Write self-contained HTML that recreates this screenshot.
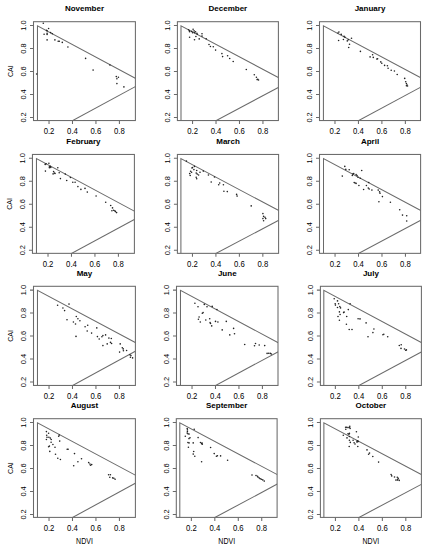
<!DOCTYPE html>
<html><head><meta charset="utf-8"><style>
html,body{margin:0;padding:0;background:#fff;width:427px;height:550px;overflow:hidden}
svg{display:block;filter:none}
text{font-family:"Liberation Sans",sans-serif;font-size:8.0px;fill:#000;stroke:#000;stroke-width:0px}
circle{fill:#222}
text.t{font-weight:bold;font-size:8.0px}
text.xl{font-size:8.8px} text.yl{font-size:8.0px} text.cai{font-size:8.0px} text.ndvi{font-size:8.8px}
</style></head><body>
<svg width="427" height="550" viewBox="0 0 427 550">
<rect width="427" height="550" fill="#fff"/>
<clipPath id="c0"><rect x="33.5" y="21.7" width="101.9" height="98.85"/></clipPath>
<g clip-path="url(#c0)" stroke="#6a6a6a" stroke-width="1.05" fill="none">
<path d="M37.47 122.55V25.8L137.4 79.47"/>
<path d="M69 122.55L137.4 85.52"/>
</g>
<rect x="33.5" y="21.7" width="101.9" height="98.85" fill="none" stroke="#6a6a6a" stroke-width="1.05"/>
<path d="M49.03 120.55v3.5M72.49 120.55v3.5M95.95 120.55v3.5M119.41 120.55v3.5M33.5 117.42h-3.5M33.5 94.44h-3.5M33.5 71.46h-3.5M33.5 48.48h-3.5M33.5 25.5h-3.5" stroke="#6a6a6a" stroke-width="1.05"/>
<circle cx="43.3" cy="23.3" r="0.8"/>
<circle cx="48.6" cy="28.5" r="0.8"/>
<circle cx="46.5" cy="30.3" r="0.8"/>
<circle cx="47.1" cy="30.9" r="0.8"/>
<circle cx="44.1" cy="34.2" r="0.8"/>
<circle cx="47.1" cy="33.2" r="0.8"/>
<circle cx="47.1" cy="34.4" r="0.8"/>
<circle cx="50.6" cy="32.6" r="0.8"/>
<circle cx="52.3" cy="33.8" r="0.8"/>
<circle cx="47.1" cy="39.9" r="0.8"/>
<circle cx="54.9" cy="39.9" r="0.8"/>
<circle cx="58.2" cy="41.2" r="0.8"/>
<circle cx="59.3" cy="41.2" r="0.8"/>
<circle cx="62.3" cy="42.4" r="0.8"/>
<circle cx="67.9" cy="47" r="0.8"/>
<circle cx="85.6" cy="58.4" r="0.8"/>
<circle cx="93.1" cy="70.1" r="0.8"/>
<circle cx="109.9" cy="65" r="0.8"/>
<circle cx="116.3" cy="76.6" r="0.8"/>
<circle cx="118.4" cy="77.3" r="0.8"/>
<circle cx="116.9" cy="78.7" r="0.8"/>
<circle cx="116.9" cy="83.6" r="0.8"/>
<circle cx="123.9" cy="86.9" r="0.8"/>
<circle cx="36.6" cy="74" r="0.8"/>
<text class="xl" transform="translate(49.03 133.75) scale(0.88 1)" text-anchor="middle">0.2</text>
<text class="xl" transform="translate(72.49 133.75) scale(0.88 1)" text-anchor="middle">0.4</text>
<text class="xl" transform="translate(95.95 133.75) scale(0.88 1)" text-anchor="middle">0.6</text>
<text class="xl" transform="translate(119.41 133.75) scale(0.88 1)" text-anchor="middle">0.8</text>
<text class="yl" transform="translate(26.1 117.42) rotate(-90) scale(0.93 1)" text-anchor="middle">0.2</text>
<text class="yl" transform="translate(26.1 94.44) rotate(-90) scale(0.93 1)" text-anchor="middle">0.4</text>
<text class="yl" transform="translate(26.1 71.46) rotate(-90) scale(0.93 1)" text-anchor="middle">0.6</text>
<text class="yl" transform="translate(26.1 48.48) rotate(-90) scale(0.93 1)" text-anchor="middle">0.8</text>
<text class="yl" transform="translate(26.1 25.5) rotate(-90) scale(0.93 1)" text-anchor="middle">1.0</text>
<text class="t" x="84.45" y="11.3" text-anchor="middle">November</text>
<text transform="translate(13.1 71.12) rotate(-90) scale(0.88 1)" text-anchor="middle" class="cai">CAI</text>
<clipPath id="c1"><rect x="177.4" y="21.7" width="101" height="98.85"/></clipPath>
<g clip-path="url(#c1)" stroke="#6a6a6a" stroke-width="1.05" fill="none">
<path d="M181 122.55V25.8L280.4 78.66"/>
<path d="M212.47 122.55L280.4 86.33"/>
</g>
<rect x="177.4" y="21.7" width="101" height="98.85" fill="none" stroke="#6a6a6a" stroke-width="1.05"/>
<path d="M192.56 120.55v3.5M216.02 120.55v3.5M239.48 120.55v3.5M262.94 120.55v3.5M177.4 117.42h-3.5M177.4 94.44h-3.5M177.4 71.46h-3.5M177.4 48.48h-3.5M177.4 25.5h-3.5" stroke="#6a6a6a" stroke-width="1.05"/>
<circle cx="188.6" cy="29.7" r="0.8"/>
<circle cx="189.4" cy="30.9" r="0.8"/>
<circle cx="189.6" cy="31.8" r="0.8"/>
<circle cx="191.7" cy="31.4" r="0.8"/>
<circle cx="193.1" cy="29.3" r="0.8"/>
<circle cx="192.6" cy="32.8" r="0.8"/>
<circle cx="194.1" cy="30.9" r="0.8"/>
<circle cx="194.5" cy="32.8" r="0.8"/>
<circle cx="195.5" cy="31.8" r="0.8"/>
<circle cx="196.9" cy="33.2" r="0.8"/>
<circle cx="197.3" cy="34.2" r="0.8"/>
<circle cx="202" cy="33.7" r="0.8"/>
<circle cx="202" cy="36.1" r="0.8"/>
<circle cx="206.2" cy="38.7" r="0.8"/>
<circle cx="189.6" cy="37.3" r="0.8"/>
<circle cx="195.9" cy="36.5" r="0.8"/>
<circle cx="194.5" cy="39.8" r="0.8"/>
<circle cx="199.2" cy="38.9" r="0.8"/>
<circle cx="209" cy="44.5" r="0.8"/>
<circle cx="210.4" cy="46.5" r="0.8"/>
<circle cx="213.3" cy="46.8" r="0.8"/>
<circle cx="215.6" cy="50.1" r="0.8"/>
<circle cx="221.9" cy="53.6" r="0.8"/>
<circle cx="222.6" cy="56.6" r="0.8"/>
<circle cx="227.6" cy="55.7" r="0.8"/>
<circle cx="229.7" cy="58.5" r="0.8"/>
<circle cx="233.2" cy="61.5" r="0.8"/>
<circle cx="246.3" cy="69.5" r="0.8"/>
<circle cx="254.3" cy="74.8" r="0.8"/>
<circle cx="256.4" cy="77.2" r="0.8"/>
<circle cx="257.8" cy="79.3" r="0.8"/>
<circle cx="258.5" cy="80" r="0.8"/>
<circle cx="257.1" cy="79.6" r="0.8"/>
<text class="xl" transform="translate(192.56 133.75) scale(0.88 1)" text-anchor="middle">0.2</text>
<text class="xl" transform="translate(216.02 133.75) scale(0.88 1)" text-anchor="middle">0.4</text>
<text class="xl" transform="translate(239.48 133.75) scale(0.88 1)" text-anchor="middle">0.6</text>
<text class="xl" transform="translate(262.94 133.75) scale(0.88 1)" text-anchor="middle">0.8</text>
<text class="yl" transform="translate(170 117.42) rotate(-90) scale(0.93 1)" text-anchor="middle">0.2</text>
<text class="yl" transform="translate(170 94.44) rotate(-90) scale(0.93 1)" text-anchor="middle">0.4</text>
<text class="yl" transform="translate(170 71.46) rotate(-90) scale(0.93 1)" text-anchor="middle">0.6</text>
<text class="yl" transform="translate(170 48.48) rotate(-90) scale(0.93 1)" text-anchor="middle">0.8</text>
<text class="yl" transform="translate(170 25.5) rotate(-90) scale(0.93 1)" text-anchor="middle">1.0</text>
<text class="t" x="227.9" y="11.3" text-anchor="middle">December</text>
<clipPath id="c2"><rect x="319.5" y="21.7" width="101" height="98.85"/></clipPath>
<g clip-path="url(#c2)" stroke="#6a6a6a" stroke-width="1.05" fill="none">
<path d="M323.42 122.55V25.8L422.5 78.67"/>
<path d="M354.92 122.55L422.5 86.22"/>
</g>
<rect x="319.5" y="21.7" width="101" height="98.85" fill="none" stroke="#6a6a6a" stroke-width="1.05"/>
<path d="M334.98 120.55v3.5M358.44 120.55v3.5M381.9 120.55v3.5M405.36 120.55v3.5M319.5 117.42h-3.5M319.5 94.44h-3.5M319.5 71.46h-3.5M319.5 48.48h-3.5M319.5 25.5h-3.5" stroke="#6a6a6a" stroke-width="1.05"/>
<circle cx="338" cy="33" r="0.8"/>
<circle cx="338.9" cy="32" r="0.8"/>
<circle cx="341.2" cy="34.4" r="0.8"/>
<circle cx="344.1" cy="36.4" r="0.8"/>
<circle cx="345" cy="37.2" r="0.8"/>
<circle cx="351.5" cy="38.3" r="0.8"/>
<circle cx="338.6" cy="40.5" r="0.8"/>
<circle cx="343.4" cy="39.5" r="0.8"/>
<circle cx="347.3" cy="40.9" r="0.8"/>
<circle cx="348.3" cy="39.8" r="0.8"/>
<circle cx="349.5" cy="44.2" r="0.8"/>
<circle cx="348.7" cy="47.5" r="0.8"/>
<circle cx="360.4" cy="51.4" r="0.8"/>
<circle cx="370.1" cy="56.9" r="0.8"/>
<circle cx="372.6" cy="54.8" r="0.8"/>
<circle cx="373.3" cy="57.4" r="0.8"/>
<circle cx="376.9" cy="59.1" r="0.8"/>
<circle cx="377.6" cy="58.8" r="0.8"/>
<circle cx="380.8" cy="61.9" r="0.8"/>
<circle cx="381.8" cy="63.3" r="0.8"/>
<circle cx="384.6" cy="65.4" r="0.8"/>
<circle cx="387.4" cy="65.8" r="0.8"/>
<circle cx="388.1" cy="68.2" r="0.8"/>
<circle cx="391.2" cy="70.3" r="0.8"/>
<circle cx="394.4" cy="71" r="0.8"/>
<circle cx="397.2" cy="74.5" r="0.8"/>
<circle cx="404.7" cy="78.4" r="0.8"/>
<circle cx="405.7" cy="81.8" r="0.8"/>
<circle cx="406.4" cy="83.6" r="0.8"/>
<circle cx="407.1" cy="85" r="0.8"/>
<circle cx="406.4" cy="85.7" r="0.8"/>
<circle cx="407.5" cy="86" r="0.8"/>
<text class="xl" transform="translate(334.98 133.75) scale(0.88 1)" text-anchor="middle">0.2</text>
<text class="xl" transform="translate(358.44 133.75) scale(0.88 1)" text-anchor="middle">0.4</text>
<text class="xl" transform="translate(381.9 133.75) scale(0.88 1)" text-anchor="middle">0.6</text>
<text class="xl" transform="translate(405.36 133.75) scale(0.88 1)" text-anchor="middle">0.8</text>
<text class="yl" transform="translate(312.1 117.42) rotate(-90) scale(0.93 1)" text-anchor="middle">0.2</text>
<text class="yl" transform="translate(312.1 94.44) rotate(-90) scale(0.93 1)" text-anchor="middle">0.4</text>
<text class="yl" transform="translate(312.1 71.46) rotate(-90) scale(0.93 1)" text-anchor="middle">0.6</text>
<text class="yl" transform="translate(312.1 48.48) rotate(-90) scale(0.93 1)" text-anchor="middle">0.8</text>
<text class="yl" transform="translate(312.1 25.5) rotate(-90) scale(0.93 1)" text-anchor="middle">1.0</text>
<text class="t" x="370" y="11.3" text-anchor="middle">January</text>
<clipPath id="c3"><rect x="32.45" y="154.45" width="101.95" height="98.9"/></clipPath>
<g clip-path="url(#c3)" stroke="#6a6a6a" stroke-width="1.05" fill="none">
<path d="M36.46 255.35V158.55L136.4 212.28"/>
<path d="M67.99 255.35L136.4 218.32"/>
</g>
<rect x="32.45" y="154.45" width="101.95" height="98.9" fill="none" stroke="#6a6a6a" stroke-width="1.05"/>
<path d="M48.02 253.35v3.5M71.48 253.35v3.5M94.94 253.35v3.5M118.4 253.35v3.5M32.45 250.17h-3.5M32.45 227.19h-3.5M32.45 204.21h-3.5M32.45 181.23h-3.5M32.45 158.25h-3.5" stroke="#6a6a6a" stroke-width="1.05"/>
<circle cx="45.2" cy="164.4" r="0.8"/>
<circle cx="46.1" cy="163.8" r="0.8"/>
<circle cx="48.9" cy="163.2" r="0.8"/>
<circle cx="49.4" cy="166.9" r="0.8"/>
<circle cx="50.3" cy="166.4" r="0.8"/>
<circle cx="49.4" cy="167.8" r="0.8"/>
<circle cx="50.8" cy="167.4" r="0.8"/>
<circle cx="57.8" cy="167.8" r="0.8"/>
<circle cx="45.4" cy="171.1" r="0.8"/>
<circle cx="53.6" cy="171.6" r="0.8"/>
<circle cx="53.1" cy="173.9" r="0.8"/>
<circle cx="54.5" cy="173" r="0.8"/>
<circle cx="55" cy="173.5" r="0.8"/>
<circle cx="59.2" cy="172.8" r="0.8"/>
<circle cx="65.3" cy="174.1" r="0.8"/>
<circle cx="70.4" cy="177.5" r="0.8"/>
<circle cx="60.4" cy="178.6" r="0.8"/>
<circle cx="66.7" cy="180.5" r="0.8"/>
<circle cx="72.8" cy="182.2" r="0.8"/>
<circle cx="75.1" cy="182.2" r="0.8"/>
<circle cx="77.9" cy="186.6" r="0.8"/>
<circle cx="80.9" cy="189.4" r="0.8"/>
<circle cx="85" cy="188.4" r="0.8"/>
<circle cx="87.3" cy="192.1" r="0.8"/>
<circle cx="96.1" cy="196" r="0.8"/>
<circle cx="105.7" cy="202.2" r="0.8"/>
<circle cx="110.7" cy="205.5" r="0.8"/>
<circle cx="112.5" cy="207.9" r="0.8"/>
<circle cx="111.9" cy="210.7" r="0.8"/>
<circle cx="113.6" cy="210.2" r="0.8"/>
<circle cx="114.8" cy="210.7" r="0.8"/>
<circle cx="116.6" cy="212.6" r="0.8"/>
<circle cx="115.4" cy="211.6" r="0.8"/>
<text class="xl" transform="translate(48.02 266.55) scale(0.88 1)" text-anchor="middle">0.2</text>
<text class="xl" transform="translate(71.48 266.55) scale(0.88 1)" text-anchor="middle">0.4</text>
<text class="xl" transform="translate(94.94 266.55) scale(0.88 1)" text-anchor="middle">0.6</text>
<text class="xl" transform="translate(118.4 266.55) scale(0.88 1)" text-anchor="middle">0.8</text>
<text class="yl" transform="translate(25.05 250.17) rotate(-90) scale(0.93 1)" text-anchor="middle">0.2</text>
<text class="yl" transform="translate(25.05 227.19) rotate(-90) scale(0.93 1)" text-anchor="middle">0.4</text>
<text class="yl" transform="translate(25.05 204.21) rotate(-90) scale(0.93 1)" text-anchor="middle">0.6</text>
<text class="yl" transform="translate(25.05 181.23) rotate(-90) scale(0.93 1)" text-anchor="middle">0.8</text>
<text class="yl" transform="translate(25.05 158.25) rotate(-90) scale(0.93 1)" text-anchor="middle">1.0</text>
<text class="t" x="83.43" y="144.05" text-anchor="middle">February</text>
<text transform="translate(12.05 203.9) rotate(-90) scale(0.88 1)" text-anchor="middle" class="cai">CAI</text>
<clipPath id="c4"><rect x="177.4" y="154.45" width="101.2" height="98.9"/></clipPath>
<g clip-path="url(#c4)" stroke="#6a6a6a" stroke-width="1.05" fill="none">
<path d="M180.9 255.35V158.55L280.6 211.56"/>
<path d="M212.34 255.35L280.6 219.24"/>
</g>
<rect x="177.4" y="154.45" width="101.2" height="98.9" fill="none" stroke="#6a6a6a" stroke-width="1.05"/>
<path d="M192.46 253.35v3.5M215.92 253.35v3.5M239.38 253.35v3.5M262.84 253.35v3.5M177.4 250.17h-3.5M177.4 227.19h-3.5M177.4 204.21h-3.5M177.4 181.23h-3.5M177.4 158.25h-3.5" stroke="#6a6a6a" stroke-width="1.05"/>
<circle cx="186.4" cy="161.1" r="0.8"/>
<circle cx="194.4" cy="166.4" r="0.8"/>
<circle cx="192" cy="168" r="0.8"/>
<circle cx="192.5" cy="167.5" r="0.8"/>
<circle cx="193.9" cy="169.6" r="0.8"/>
<circle cx="190.6" cy="171.2" r="0.8"/>
<circle cx="191.6" cy="172.2" r="0.8"/>
<circle cx="189.7" cy="173.6" r="0.8"/>
<circle cx="190.2" cy="175.5" r="0.8"/>
<circle cx="196.7" cy="170.5" r="0.8"/>
<circle cx="196.2" cy="173.1" r="0.8"/>
<circle cx="197.2" cy="174.1" r="0.8"/>
<circle cx="198.6" cy="175" r="0.8"/>
<circle cx="200" cy="172.2" r="0.8"/>
<circle cx="196.2" cy="177.3" r="0.8"/>
<circle cx="196.7" cy="178.7" r="0.8"/>
<circle cx="203.3" cy="171.1" r="0.8"/>
<circle cx="208.4" cy="175" r="0.8"/>
<circle cx="214.5" cy="177" r="0.8"/>
<circle cx="211.2" cy="182" r="0.8"/>
<circle cx="219.7" cy="183" r="0.8"/>
<circle cx="218.7" cy="184.8" r="0.8"/>
<circle cx="223.4" cy="184.8" r="0.8"/>
<circle cx="223.9" cy="191.2" r="0.8"/>
<circle cx="227.3" cy="191.6" r="0.8"/>
<circle cx="236.6" cy="194.4" r="0.8"/>
<circle cx="237.1" cy="196.1" r="0.8"/>
<circle cx="251.2" cy="205.9" r="0.8"/>
<circle cx="262.9" cy="213.6" r="0.8"/>
<circle cx="263.6" cy="216.4" r="0.8"/>
<circle cx="265" cy="217.2" r="0.8"/>
<circle cx="262.9" cy="218.6" r="0.8"/>
<circle cx="265.7" cy="218.6" r="0.8"/>
<circle cx="263.6" cy="220.7" r="0.8"/>
<text class="xl" transform="translate(192.46 266.55) scale(0.88 1)" text-anchor="middle">0.2</text>
<text class="xl" transform="translate(215.92 266.55) scale(0.88 1)" text-anchor="middle">0.4</text>
<text class="xl" transform="translate(239.38 266.55) scale(0.88 1)" text-anchor="middle">0.6</text>
<text class="xl" transform="translate(262.84 266.55) scale(0.88 1)" text-anchor="middle">0.8</text>
<text class="yl" transform="translate(170 250.17) rotate(-90) scale(0.93 1)" text-anchor="middle">0.2</text>
<text class="yl" transform="translate(170 227.19) rotate(-90) scale(0.93 1)" text-anchor="middle">0.4</text>
<text class="yl" transform="translate(170 204.21) rotate(-90) scale(0.93 1)" text-anchor="middle">0.6</text>
<text class="yl" transform="translate(170 181.23) rotate(-90) scale(0.93 1)" text-anchor="middle">0.8</text>
<text class="yl" transform="translate(170 158.25) rotate(-90) scale(0.93 1)" text-anchor="middle">1.0</text>
<text class="t" x="228" y="144.05" text-anchor="middle">March</text>
<clipPath id="c5"><rect x="319.5" y="154.45" width="101.1" height="98.9"/></clipPath>
<g clip-path="url(#c5)" stroke="#6a6a6a" stroke-width="1.05" fill="none">
<path d="M323.5 255.35V158.55L422.6 211.47"/>
<path d="M354.98 255.35L422.6 219.23"/>
</g>
<rect x="319.5" y="154.45" width="101.1" height="98.9" fill="none" stroke="#6a6a6a" stroke-width="1.05"/>
<path d="M335.06 253.35v3.5M358.52 253.35v3.5M381.98 253.35v3.5M405.44 253.35v3.5M319.5 250.17h-3.5M319.5 227.19h-3.5M319.5 204.21h-3.5M319.5 181.23h-3.5M319.5 158.25h-3.5" stroke="#6a6a6a" stroke-width="1.05"/>
<circle cx="344.8" cy="166.4" r="0.8"/>
<circle cx="345.8" cy="169.4" r="0.8"/>
<circle cx="349.2" cy="169.8" r="0.8"/>
<circle cx="361.7" cy="170.5" r="0.8"/>
<circle cx="342.3" cy="176.1" r="0.8"/>
<circle cx="352.8" cy="174.1" r="0.8"/>
<circle cx="353.7" cy="173.6" r="0.8"/>
<circle cx="352.3" cy="175.5" r="0.8"/>
<circle cx="356.1" cy="174.5" r="0.8"/>
<circle cx="357" cy="175.5" r="0.8"/>
<circle cx="358" cy="177.3" r="0.8"/>
<circle cx="360.3" cy="178.3" r="0.8"/>
<circle cx="368.7" cy="182.5" r="0.8"/>
<circle cx="354.2" cy="182.5" r="0.8"/>
<circle cx="355.1" cy="183" r="0.8"/>
<circle cx="356.1" cy="183.4" r="0.8"/>
<circle cx="358.9" cy="185.5" r="0.8"/>
<circle cx="366.4" cy="185.5" r="0.8"/>
<circle cx="363.6" cy="189.5" r="0.8"/>
<circle cx="368.3" cy="188.1" r="0.8"/>
<circle cx="369.2" cy="189" r="0.8"/>
<circle cx="371.9" cy="190.1" r="0.8"/>
<circle cx="378.2" cy="190.1" r="0.8"/>
<circle cx="379.6" cy="191.9" r="0.8"/>
<circle cx="380" cy="193.3" r="0.8"/>
<circle cx="382.4" cy="196.6" r="0.8"/>
<circle cx="378.9" cy="201.8" r="0.8"/>
<circle cx="390.4" cy="202.2" r="0.8"/>
<circle cx="399.7" cy="209.8" r="0.8"/>
<circle cx="402.5" cy="215.1" r="0.8"/>
<circle cx="406.7" cy="215.8" r="0.8"/>
<circle cx="406.7" cy="221" r="0.8"/>
<text class="xl" transform="translate(335.06 266.55) scale(0.88 1)" text-anchor="middle">0.2</text>
<text class="xl" transform="translate(358.52 266.55) scale(0.88 1)" text-anchor="middle">0.4</text>
<text class="xl" transform="translate(381.98 266.55) scale(0.88 1)" text-anchor="middle">0.6</text>
<text class="xl" transform="translate(405.44 266.55) scale(0.88 1)" text-anchor="middle">0.8</text>
<text class="yl" transform="translate(312.1 250.17) rotate(-90) scale(0.93 1)" text-anchor="middle">0.2</text>
<text class="yl" transform="translate(312.1 227.19) rotate(-90) scale(0.93 1)" text-anchor="middle">0.4</text>
<text class="yl" transform="translate(312.1 204.21) rotate(-90) scale(0.93 1)" text-anchor="middle">0.6</text>
<text class="yl" transform="translate(312.1 181.23) rotate(-90) scale(0.93 1)" text-anchor="middle">0.8</text>
<text class="yl" transform="translate(312.1 158.25) rotate(-90) scale(0.93 1)" text-anchor="middle">1.0</text>
<text class="t" x="370.05" y="144.05" text-anchor="middle">April</text>
<clipPath id="c6"><rect x="33.5" y="286.3" width="101.9" height="99.15"/></clipPath>
<g clip-path="url(#c6)" stroke="#6a6a6a" stroke-width="1.05" fill="none">
<path d="M37.47 387.45V290.4L137.4 343.67"/>
<path d="M69.02 387.45L137.4 350.21"/>
</g>
<rect x="33.5" y="286.3" width="101.9" height="99.15" fill="none" stroke="#6a6a6a" stroke-width="1.05"/>
<path d="M49.03 385.45v3.5M72.49 385.45v3.5M95.95 385.45v3.5M119.41 385.45v3.5M33.5 382.02h-3.5M33.5 359.04h-3.5M33.5 336.06h-3.5M33.5 313.08h-3.5M33.5 290.1h-3.5" stroke="#6a6a6a" stroke-width="1.05"/>
<circle cx="57.6" cy="305.3" r="0.8"/>
<circle cx="69" cy="304.1" r="0.8"/>
<circle cx="62.9" cy="308" r="0.8"/>
<circle cx="64.6" cy="310.6" r="0.8"/>
<circle cx="76.3" cy="316.5" r="0.8"/>
<circle cx="77.9" cy="318.8" r="0.8"/>
<circle cx="79.9" cy="320.8" r="0.8"/>
<circle cx="67" cy="319.7" r="0.8"/>
<circle cx="73.4" cy="322" r="0.8"/>
<circle cx="75.5" cy="324" r="0.8"/>
<circle cx="85.1" cy="326.7" r="0.8"/>
<circle cx="87.7" cy="325.2" r="0.8"/>
<circle cx="96.8" cy="327.9" r="0.8"/>
<circle cx="87.2" cy="331" r="0.8"/>
<circle cx="91.6" cy="333.1" r="0.8"/>
<circle cx="76" cy="336.4" r="0.8"/>
<circle cx="97.4" cy="336.6" r="0.8"/>
<circle cx="99.2" cy="339" r="0.8"/>
<circle cx="101.9" cy="336.7" r="0.8"/>
<circle cx="102.9" cy="335.6" r="0.8"/>
<circle cx="105.6" cy="334.9" r="0.8"/>
<circle cx="108.9" cy="338.1" r="0.8"/>
<circle cx="111.3" cy="338.5" r="0.8"/>
<circle cx="110.5" cy="342.4" r="0.8"/>
<circle cx="111.6" cy="343.5" r="0.8"/>
<circle cx="107.2" cy="343.9" r="0.8"/>
<circle cx="102.9" cy="345.6" r="0.8"/>
<circle cx="120.2" cy="343.9" r="0.8"/>
<circle cx="122.3" cy="347.8" r="0.8"/>
<circle cx="123.2" cy="348.9" r="0.8"/>
<circle cx="123.4" cy="350.7" r="0.8"/>
<circle cx="126.6" cy="350.5" r="0.8"/>
<circle cx="119.6" cy="352.1" r="0.8"/>
<circle cx="129.9" cy="354.7" r="0.8"/>
<circle cx="130.9" cy="355.6" r="0.8"/>
<circle cx="130.4" cy="357.2" r="0.8"/>
<circle cx="132.6" cy="357.9" r="0.8"/>
<text class="xl" transform="translate(49.03 398.65) scale(0.88 1)" text-anchor="middle">0.2</text>
<text class="xl" transform="translate(72.49 398.65) scale(0.88 1)" text-anchor="middle">0.4</text>
<text class="xl" transform="translate(95.95 398.65) scale(0.88 1)" text-anchor="middle">0.6</text>
<text class="xl" transform="translate(119.41 398.65) scale(0.88 1)" text-anchor="middle">0.8</text>
<text class="yl" transform="translate(26.1 382.02) rotate(-90) scale(0.93 1)" text-anchor="middle">0.2</text>
<text class="yl" transform="translate(26.1 359.04) rotate(-90) scale(0.93 1)" text-anchor="middle">0.4</text>
<text class="yl" transform="translate(26.1 336.06) rotate(-90) scale(0.93 1)" text-anchor="middle">0.6</text>
<text class="yl" transform="translate(26.1 313.08) rotate(-90) scale(0.93 1)" text-anchor="middle">0.8</text>
<text class="yl" transform="translate(26.1 290.1) rotate(-90) scale(0.93 1)" text-anchor="middle">1.0</text>
<text class="t" x="84.45" y="275.9" text-anchor="middle">May</text>
<text transform="translate(13.1 335.88) rotate(-90) scale(0.88 1)" text-anchor="middle" class="cai">CAI</text>
<clipPath id="c7"><rect x="176.5" y="286.3" width="101.5" height="99.15"/></clipPath>
<g clip-path="url(#c7)" stroke="#6a6a6a" stroke-width="1.05" fill="none">
<path d="M180.47 387.45V290.4L280 343.67"/>
<path d="M211.99 387.45L280 350.72"/>
</g>
<rect x="176.5" y="286.3" width="101.5" height="99.15" fill="none" stroke="#6a6a6a" stroke-width="1.05"/>
<path d="M192.03 385.45v3.5M215.49 385.45v3.5M238.95 385.45v3.5M262.41 385.45v3.5M176.5 382.02h-3.5M176.5 359.04h-3.5M176.5 336.06h-3.5M176.5 313.08h-3.5M176.5 290.1h-3.5" stroke="#6a6a6a" stroke-width="1.05"/>
<circle cx="194.9" cy="303.3" r="0.8"/>
<circle cx="198" cy="306.8" r="0.8"/>
<circle cx="204.3" cy="304.4" r="0.8"/>
<circle cx="207" cy="306.8" r="0.8"/>
<circle cx="212.2" cy="306.4" r="0.8"/>
<circle cx="216.9" cy="309.5" r="0.8"/>
<circle cx="202.3" cy="313.2" r="0.8"/>
<circle cx="203.1" cy="312.6" r="0.8"/>
<circle cx="199.1" cy="317" r="0.8"/>
<circle cx="198.4" cy="319.3" r="0.8"/>
<circle cx="200.3" cy="322" r="0.8"/>
<circle cx="205.8" cy="320" r="0.8"/>
<circle cx="209.7" cy="318.8" r="0.8"/>
<circle cx="210.1" cy="322.6" r="0.8"/>
<circle cx="210.5" cy="323.5" r="0.8"/>
<circle cx="211.7" cy="325.9" r="0.8"/>
<circle cx="215.5" cy="321.4" r="0.8"/>
<circle cx="217.9" cy="322" r="0.8"/>
<circle cx="226.3" cy="321.4" r="0.8"/>
<circle cx="222.2" cy="329.9" r="0.8"/>
<circle cx="233.6" cy="328.4" r="0.8"/>
<circle cx="229.8" cy="334.9" r="0.8"/>
<circle cx="234.5" cy="333.7" r="0.8"/>
<circle cx="244.7" cy="344.5" r="0.8"/>
<circle cx="255.5" cy="343.5" r="0.8"/>
<circle cx="254.5" cy="345.8" r="0.8"/>
<circle cx="259.2" cy="345" r="0.8"/>
<circle cx="264.7" cy="345.6" r="0.8"/>
<circle cx="267.1" cy="353.4" r="0.8"/>
<circle cx="268.7" cy="353.2" r="0.8"/>
<circle cx="270.3" cy="353.4" r="0.8"/>
<circle cx="271.4" cy="354" r="0.8"/>
<text class="xl" transform="translate(192.03 398.65) scale(0.88 1)" text-anchor="middle">0.2</text>
<text class="xl" transform="translate(215.49 398.65) scale(0.88 1)" text-anchor="middle">0.4</text>
<text class="xl" transform="translate(238.95 398.65) scale(0.88 1)" text-anchor="middle">0.6</text>
<text class="xl" transform="translate(262.41 398.65) scale(0.88 1)" text-anchor="middle">0.8</text>
<text class="yl" transform="translate(169.1 382.02) rotate(-90) scale(0.93 1)" text-anchor="middle">0.2</text>
<text class="yl" transform="translate(169.1 359.04) rotate(-90) scale(0.93 1)" text-anchor="middle">0.4</text>
<text class="yl" transform="translate(169.1 336.06) rotate(-90) scale(0.93 1)" text-anchor="middle">0.6</text>
<text class="yl" transform="translate(169.1 313.08) rotate(-90) scale(0.93 1)" text-anchor="middle">0.8</text>
<text class="yl" transform="translate(169.1 290.1) rotate(-90) scale(0.93 1)" text-anchor="middle">1.0</text>
<text class="t" x="227.25" y="275.9" text-anchor="middle">June</text>
<clipPath id="c8"><rect x="320.4" y="286.3" width="101" height="99.15"/></clipPath>
<g clip-path="url(#c8)" stroke="#6a6a6a" stroke-width="1.05" fill="none">
<path d="M323.8 387.45V290.4L423.4 343.57"/>
<path d="M355.29 387.45L423.4 350.93"/>
</g>
<rect x="320.4" y="286.3" width="101" height="99.15" fill="none" stroke="#6a6a6a" stroke-width="1.05"/>
<path d="M335.36 385.45v3.5M358.82 385.45v3.5M382.28 385.45v3.5M405.74 385.45v3.5M320.4 382.02h-3.5M320.4 359.04h-3.5M320.4 336.06h-3.5M320.4 313.08h-3.5M320.4 290.1h-3.5" stroke="#6a6a6a" stroke-width="1.05"/>
<circle cx="334.2" cy="298.7" r="0.8"/>
<circle cx="337.5" cy="300.9" r="0.8"/>
<circle cx="335.2" cy="303.7" r="0.8"/>
<circle cx="335.4" cy="305.1" r="0.8"/>
<circle cx="338.6" cy="303.7" r="0.8"/>
<circle cx="339.8" cy="306.5" r="0.8"/>
<circle cx="340.5" cy="307.9" r="0.8"/>
<circle cx="337.5" cy="307.5" r="0.8"/>
<circle cx="350.1" cy="303.7" r="0.8"/>
<circle cx="348.3" cy="309.6" r="0.8"/>
<circle cx="339.4" cy="311.9" r="0.8"/>
<circle cx="343.6" cy="312.6" r="0.8"/>
<circle cx="344.1" cy="312.1" r="0.8"/>
<circle cx="340.1" cy="314.5" r="0.8"/>
<circle cx="338" cy="316.5" r="0.8"/>
<circle cx="346.7" cy="316.5" r="0.8"/>
<circle cx="339.4" cy="320.3" r="0.8"/>
<circle cx="346.4" cy="324.3" r="0.8"/>
<circle cx="358.1" cy="318.7" r="0.8"/>
<circle cx="360" cy="318.9" r="0.8"/>
<circle cx="366.1" cy="322.9" r="0.8"/>
<circle cx="349.2" cy="329.5" r="0.8"/>
<circle cx="352" cy="329.5" r="0.8"/>
<circle cx="373.9" cy="329" r="0.8"/>
<circle cx="372.9" cy="332.6" r="0.8"/>
<circle cx="368" cy="336.8" r="0.8"/>
<circle cx="382.9" cy="334.8" r="0.8"/>
<circle cx="383.8" cy="334.2" r="0.8"/>
<circle cx="387.7" cy="336.8" r="0.8"/>
<circle cx="399.3" cy="345.5" r="0.8"/>
<circle cx="401.2" cy="344.7" r="0.8"/>
<circle cx="401" cy="348.4" r="0.8"/>
<circle cx="404.5" cy="349" r="0.8"/>
<circle cx="405.7" cy="350.3" r="0.8"/>
<circle cx="406.4" cy="349.9" r="0.8"/>
<text class="xl" transform="translate(335.36 398.65) scale(0.88 1)" text-anchor="middle">0.2</text>
<text class="xl" transform="translate(358.82 398.65) scale(0.88 1)" text-anchor="middle">0.4</text>
<text class="xl" transform="translate(382.28 398.65) scale(0.88 1)" text-anchor="middle">0.6</text>
<text class="xl" transform="translate(405.74 398.65) scale(0.88 1)" text-anchor="middle">0.8</text>
<text class="yl" transform="translate(313 382.02) rotate(-90) scale(0.93 1)" text-anchor="middle">0.2</text>
<text class="yl" transform="translate(313 359.04) rotate(-90) scale(0.93 1)" text-anchor="middle">0.4</text>
<text class="yl" transform="translate(313 336.06) rotate(-90) scale(0.93 1)" text-anchor="middle">0.6</text>
<text class="yl" transform="translate(313 313.08) rotate(-90) scale(0.93 1)" text-anchor="middle">0.8</text>
<text class="yl" transform="translate(313 290.1) rotate(-90) scale(0.93 1)" text-anchor="middle">1.0</text>
<text class="t" x="370.9" y="275.9" text-anchor="middle">July</text>
<clipPath id="c9"><rect x="33.5" y="418.7" width="101.9" height="98.7"/></clipPath>
<g clip-path="url(#c9)" stroke="#6a6a6a" stroke-width="1.05" fill="none">
<path d="M37.47 519.4V422.8L137.4 476.27"/>
<path d="M69.02 519.4L137.4 482.11"/>
</g>
<rect x="33.5" y="418.7" width="101.9" height="98.7" fill="none" stroke="#6a6a6a" stroke-width="1.05"/>
<path d="M49.03 517.4v3.5M72.49 517.4v3.5M95.95 517.4v3.5M119.41 517.4v3.5M33.5 514.42h-3.5M33.5 491.44h-3.5M33.5 468.46h-3.5M33.5 445.48h-3.5M33.5 422.5h-3.5" stroke="#6a6a6a" stroke-width="1.05"/>
<circle cx="46.4" cy="431.6" r="0.8"/>
<circle cx="48.6" cy="433.2" r="0.8"/>
<circle cx="46.7" cy="435.3" r="0.8"/>
<circle cx="47" cy="437.2" r="0.8"/>
<circle cx="48.9" cy="437.2" r="0.8"/>
<circle cx="50.3" cy="438.1" r="0.8"/>
<circle cx="51.2" cy="439.5" r="0.8"/>
<circle cx="46.4" cy="439.5" r="0.8"/>
<circle cx="59.2" cy="435.1" r="0.8"/>
<circle cx="58.7" cy="436.2" r="0.8"/>
<circle cx="59.7" cy="441.1" r="0.8"/>
<circle cx="51.1" cy="442.3" r="0.8"/>
<circle cx="52.9" cy="444.5" r="0.8"/>
<circle cx="49.4" cy="446.1" r="0.8"/>
<circle cx="48.6" cy="446.7" r="0.8"/>
<circle cx="55" cy="447.3" r="0.8"/>
<circle cx="67.2" cy="449.2" r="0.8"/>
<circle cx="68.1" cy="449.2" r="0.8"/>
<circle cx="49.8" cy="451.4" r="0.8"/>
<circle cx="55.5" cy="454.2" r="0.8"/>
<circle cx="74.5" cy="453.6" r="0.8"/>
<circle cx="57.8" cy="458.3" r="0.8"/>
<circle cx="60.4" cy="459.5" r="0.8"/>
<circle cx="77.9" cy="461.7" r="0.8"/>
<circle cx="81.5" cy="458.8" r="0.8"/>
<circle cx="73.7" cy="465.8" r="0.8"/>
<circle cx="88.7" cy="462.6" r="0.8"/>
<circle cx="89.9" cy="464" r="0.8"/>
<circle cx="91.7" cy="464.6" r="0.8"/>
<circle cx="90.5" cy="465.2" r="0.8"/>
<circle cx="108.6" cy="474.8" r="0.8"/>
<circle cx="110.4" cy="474.8" r="0.8"/>
<circle cx="109.8" cy="477.2" r="0.8"/>
<circle cx="112.7" cy="477.9" r="0.8"/>
<circle cx="113.9" cy="478.3" r="0.8"/>
<circle cx="115.1" cy="479.3" r="0.8"/>
<text class="xl" transform="translate(49.03 530.6) scale(0.88 1)" text-anchor="middle">0.2</text>
<text class="xl" transform="translate(72.49 530.6) scale(0.88 1)" text-anchor="middle">0.4</text>
<text class="xl" transform="translate(95.95 530.6) scale(0.88 1)" text-anchor="middle">0.6</text>
<text class="xl" transform="translate(119.41 530.6) scale(0.88 1)" text-anchor="middle">0.8</text>
<text class="yl" transform="translate(26.1 514.42) rotate(-90) scale(0.93 1)" text-anchor="middle">0.2</text>
<text class="yl" transform="translate(26.1 491.44) rotate(-90) scale(0.93 1)" text-anchor="middle">0.4</text>
<text class="yl" transform="translate(26.1 468.46) rotate(-90) scale(0.93 1)" text-anchor="middle">0.6</text>
<text class="yl" transform="translate(26.1 445.48) rotate(-90) scale(0.93 1)" text-anchor="middle">0.8</text>
<text class="yl" transform="translate(26.1 422.5) rotate(-90) scale(0.93 1)" text-anchor="middle">1.0</text>
<text class="t" x="84.45" y="408.3" text-anchor="middle">August</text>
<text transform="translate(13.1 468.05) rotate(-90) scale(0.88 1)" text-anchor="middle" class="cai">CAI</text>
<text transform="translate(84.45 544.2) scale(0.8 1)" text-anchor="middle" class="ndvi">NDVI</text>
<clipPath id="c10"><rect x="176.3" y="418.7" width="100.8" height="98.7"/></clipPath>
<g clip-path="url(#c10)" stroke="#6a6a6a" stroke-width="1.05" fill="none">
<path d="M179.8 519.4V422.8L279.1 475.56"/>
<path d="M211.28 519.4L279.1 483.13"/>
</g>
<rect x="176.3" y="418.7" width="100.8" height="98.7" fill="none" stroke="#6a6a6a" stroke-width="1.05"/>
<path d="M191.36 517.4v3.5M214.82 517.4v3.5M238.28 517.4v3.5M261.74 517.4v3.5M176.3 514.42h-3.5M176.3 491.44h-3.5M176.3 468.46h-3.5M176.3 445.48h-3.5M176.3 422.5h-3.5" stroke="#6a6a6a" stroke-width="1.05"/>
<circle cx="187.2" cy="428.5" r="0.8"/>
<circle cx="187.4" cy="429.9" r="0.8"/>
<circle cx="187.4" cy="431.5" r="0.8"/>
<circle cx="187.2" cy="433.1" r="0.8"/>
<circle cx="187.9" cy="433.8" r="0.8"/>
<circle cx="189" cy="434.1" r="0.8"/>
<circle cx="194.2" cy="429.2" r="0.8"/>
<circle cx="185.3" cy="436.2" r="0.8"/>
<circle cx="189" cy="438.6" r="0.8"/>
<circle cx="190" cy="437.8" r="0.8"/>
<circle cx="198.1" cy="437.6" r="0.8"/>
<circle cx="187.9" cy="442.5" r="0.8"/>
<circle cx="189" cy="442.9" r="0.8"/>
<circle cx="193.2" cy="442.9" r="0.8"/>
<circle cx="200.5" cy="442.5" r="0.8"/>
<circle cx="201.6" cy="443.6" r="0.8"/>
<circle cx="202.3" cy="444.3" r="0.8"/>
<circle cx="202.1" cy="443.1" r="0.8"/>
<circle cx="188.4" cy="447.3" r="0.8"/>
<circle cx="210.6" cy="447.5" r="0.8"/>
<circle cx="193.7" cy="451.5" r="0.8"/>
<circle cx="193.2" cy="454.1" r="0.8"/>
<circle cx="194.8" cy="456.2" r="0.8"/>
<circle cx="214.2" cy="453.6" r="0.8"/>
<circle cx="216.4" cy="456.2" r="0.8"/>
<circle cx="217.4" cy="455.7" r="0.8"/>
<circle cx="220.6" cy="455.9" r="0.8"/>
<circle cx="201.6" cy="461.8" r="0.8"/>
<circle cx="227.6" cy="460.2" r="0.8"/>
<circle cx="252" cy="475" r="0.8"/>
<circle cx="256" cy="475.5" r="0.8"/>
<circle cx="257.5" cy="476.2" r="0.8"/>
<circle cx="258.1" cy="477.3" r="0.8"/>
<circle cx="259.3" cy="478.1" r="0.8"/>
<circle cx="260.2" cy="478.7" r="0.8"/>
<circle cx="261.4" cy="479.3" r="0.8"/>
<circle cx="262.8" cy="479.9" r="0.8"/>
<circle cx="264.2" cy="481.1" r="0.8"/>
<text class="xl" transform="translate(191.36 530.6) scale(0.88 1)" text-anchor="middle">0.2</text>
<text class="xl" transform="translate(214.82 530.6) scale(0.88 1)" text-anchor="middle">0.4</text>
<text class="xl" transform="translate(238.28 530.6) scale(0.88 1)" text-anchor="middle">0.6</text>
<text class="xl" transform="translate(261.74 530.6) scale(0.88 1)" text-anchor="middle">0.8</text>
<text class="yl" transform="translate(168.9 514.42) rotate(-90) scale(0.93 1)" text-anchor="middle">0.2</text>
<text class="yl" transform="translate(168.9 491.44) rotate(-90) scale(0.93 1)" text-anchor="middle">0.4</text>
<text class="yl" transform="translate(168.9 468.46) rotate(-90) scale(0.93 1)" text-anchor="middle">0.6</text>
<text class="yl" transform="translate(168.9 445.48) rotate(-90) scale(0.93 1)" text-anchor="middle">0.8</text>
<text class="yl" transform="translate(168.9 422.5) rotate(-90) scale(0.93 1)" text-anchor="middle">1.0</text>
<text class="t" x="226.7" y="408.3" text-anchor="middle">September</text>
<text transform="translate(226.7 544.2) scale(0.8 1)" text-anchor="middle" class="ndvi">NDVI</text>
<clipPath id="c11"><rect x="320.4" y="418.7" width="101" height="98.7"/></clipPath>
<g clip-path="url(#c11)" stroke="#6a6a6a" stroke-width="1.05" fill="none">
<path d="M323.87 519.4V422.8L423.4 475.56"/>
<path d="M355.33 519.4L423.4 483.24"/>
</g>
<rect x="320.4" y="418.7" width="101" height="98.7" fill="none" stroke="#6a6a6a" stroke-width="1.05"/>
<path d="M335.43 517.4v3.5M358.89 517.4v3.5M382.35 517.4v3.5M405.81 517.4v3.5M320.4 514.42h-3.5M320.4 491.44h-3.5M320.4 468.46h-3.5M320.4 445.48h-3.5M320.4 422.5h-3.5" stroke="#6a6a6a" stroke-width="1.05"/>
<circle cx="345.6" cy="427.2" r="0.8"/>
<circle cx="346.7" cy="427.2" r="0.8"/>
<circle cx="348" cy="427.6" r="0.8"/>
<circle cx="349.4" cy="427.2" r="0.8"/>
<circle cx="349.8" cy="426.2" r="0.8"/>
<circle cx="350.1" cy="428.4" r="0.8"/>
<circle cx="345.8" cy="429.3" r="0.8"/>
<circle cx="356.4" cy="431.8" r="0.8"/>
<circle cx="348" cy="433.7" r="0.8"/>
<circle cx="348.9" cy="434.2" r="0.8"/>
<circle cx="349.4" cy="433.4" r="0.8"/>
<circle cx="343.3" cy="435.3" r="0.8"/>
<circle cx="349.4" cy="436.5" r="0.8"/>
<circle cx="358.3" cy="437" r="0.8"/>
<circle cx="347" cy="437.9" r="0.8"/>
<circle cx="349.4" cy="440.3" r="0.8"/>
<circle cx="353.1" cy="440.3" r="0.8"/>
<circle cx="357.3" cy="440.7" r="0.8"/>
<circle cx="357.8" cy="441.7" r="0.8"/>
<circle cx="356.9" cy="441.9" r="0.8"/>
<circle cx="358.3" cy="441.2" r="0.8"/>
<circle cx="350.3" cy="442.4" r="0.8"/>
<circle cx="354.1" cy="442.8" r="0.8"/>
<circle cx="355" cy="444" r="0.8"/>
<circle cx="349.2" cy="446.5" r="0.8"/>
<circle cx="357.8" cy="446.5" r="0.8"/>
<circle cx="367" cy="449.9" r="0.8"/>
<circle cx="369.5" cy="453.1" r="0.8"/>
<circle cx="368.6" cy="454.3" r="0.8"/>
<circle cx="372.8" cy="456.5" r="0.8"/>
<circle cx="378.6" cy="462.1" r="0.8"/>
<circle cx="391.1" cy="474.5" r="0.8"/>
<circle cx="391.7" cy="475.9" r="0.8"/>
<circle cx="394.5" cy="477" r="0.8"/>
<circle cx="397.3" cy="477.3" r="0.8"/>
<circle cx="398.3" cy="478.3" r="0.8"/>
<circle cx="397.8" cy="479.2" r="0.8"/>
<circle cx="395.9" cy="480.1" r="0.8"/>
<circle cx="397.3" cy="480.1" r="0.8"/>
<circle cx="399.2" cy="480.4" r="0.8"/>
<text class="xl" transform="translate(335.43 530.6) scale(0.88 1)" text-anchor="middle">0.2</text>
<text class="xl" transform="translate(358.89 530.6) scale(0.88 1)" text-anchor="middle">0.4</text>
<text class="xl" transform="translate(382.35 530.6) scale(0.88 1)" text-anchor="middle">0.6</text>
<text class="xl" transform="translate(405.81 530.6) scale(0.88 1)" text-anchor="middle">0.8</text>
<text class="yl" transform="translate(313 514.42) rotate(-90) scale(0.93 1)" text-anchor="middle">0.2</text>
<text class="yl" transform="translate(313 491.44) rotate(-90) scale(0.93 1)" text-anchor="middle">0.4</text>
<text class="yl" transform="translate(313 468.46) rotate(-90) scale(0.93 1)" text-anchor="middle">0.6</text>
<text class="yl" transform="translate(313 445.48) rotate(-90) scale(0.93 1)" text-anchor="middle">0.8</text>
<text class="yl" transform="translate(313 422.5) rotate(-90) scale(0.93 1)" text-anchor="middle">1.0</text>
<text class="t" x="370.9" y="408.3" text-anchor="middle">October</text>
<text transform="translate(370.9 544.2) scale(0.8 1)" text-anchor="middle" class="ndvi">NDVI</text>
</svg>
</body></html>
